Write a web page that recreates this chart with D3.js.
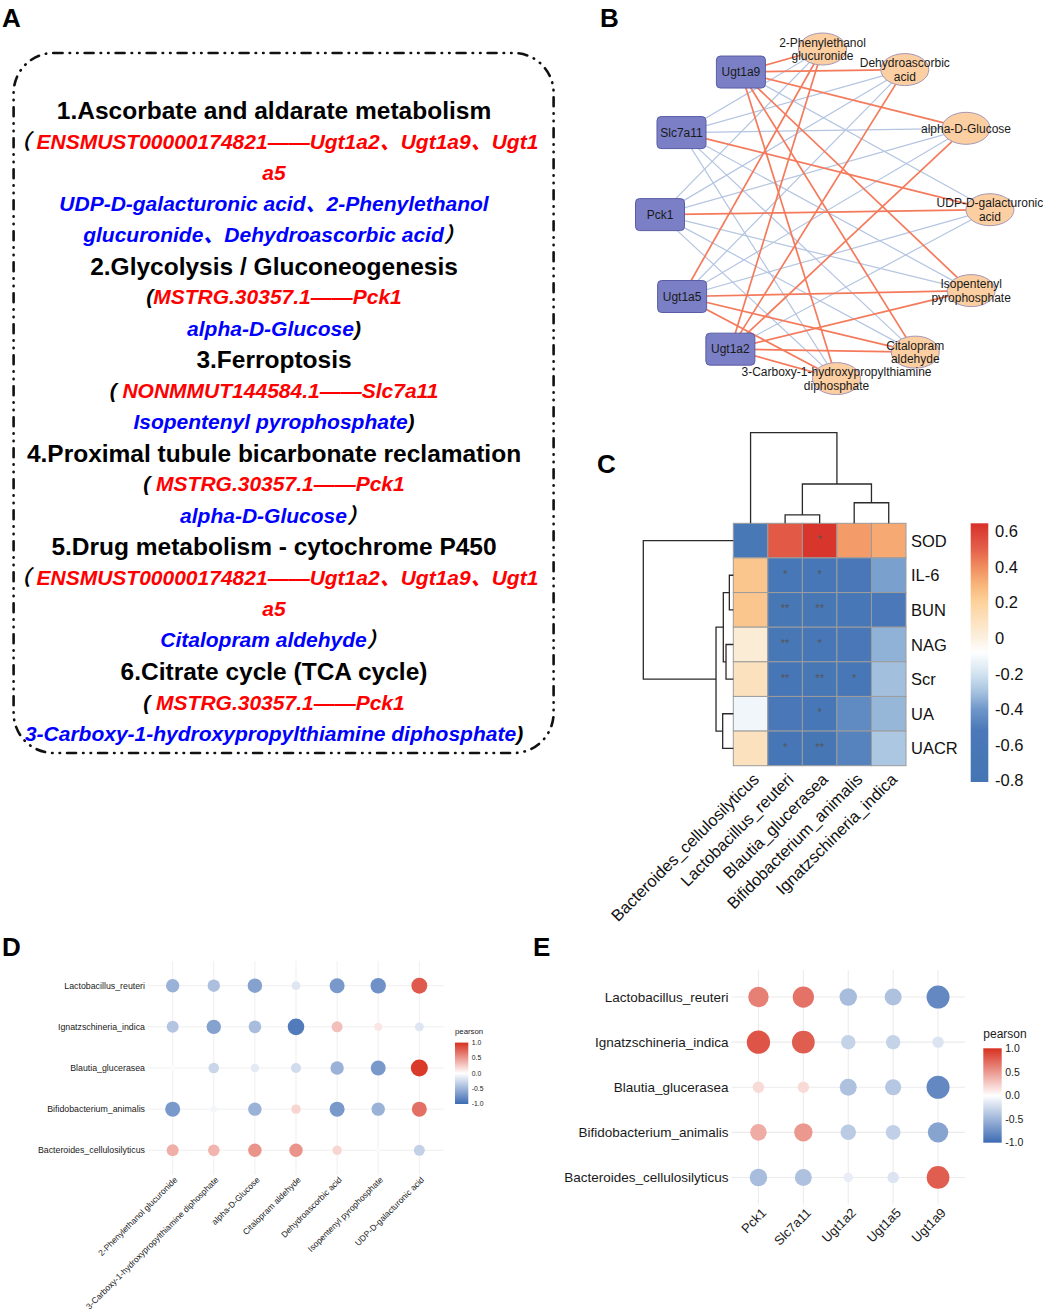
<!DOCTYPE html>
<html>
<head>
<meta charset="utf-8">
<script src="https://cdn.jsdelivr.net/npm/d3@7"></script>
<style>
  body { margin: 0; background: #fff; }
  svg { display: block; font-family: "Liberation Sans", Arial, sans-serif; }
</style>
</head>
<body>
<svg id="fig" width="1045" height="1316"></svg>
<script>
// ---------- data ----------

// panel A: pathway text, each line is a list of [text, style]
const pathwayLines = [
  [["1.Ascorbate and aldarate metabolism", "h"]],
  [["（ ", "k"], ["ENSMUST00000174821——Ugt1a2、Ugt1a9、Ugt1", "r"]],
  [["a5", "r"]],
  [["UDP-D-galacturonic acid、2-Phenylethanol", "b"]],
  [["glucuronide、Dehydroascorbic acid", "b"], ["）", "k"]],
  [["2.Glycolysis / Gluconeogenesis", "h"]],
  [["(", "k"], ["MSTRG.30357.1——Pck1", "r"]],
  [["alpha-D-Glucose", "b"], [")", "k"]],
  [["3.Ferroptosis", "h"]],
  [["( ", "k"], ["NONMMUT144584.1——Slc7a11", "r"]],
  [["Isopentenyl pyrophosphate", "b"], [")", "k"]],
  [["4.Proximal tubule bicarbonate reclamation", "h"]],
  [["( ", "k"], ["MSTRG.30357.1——Pck1", "r"]],
  [["alpha-D-Glucose", "b"], ["）", "k"]],
  [["5.Drug metabolism - cytochrome P450", "h"]],
  [["（ ", "k"], ["ENSMUST00000174821——Ugt1a2、Ugt1a9、Ugt1", "r"]],
  [["a5", "r"]],
  [["Citalopram aldehyde", "b"], ["）", "k"]],
  [["6.Citrate cycle (TCA cycle)", "h"]],
  [["( ", "k"], ["MSTRG.30357.1——Pck1", "r"]],
  [["3-Carboxy-1-hydroxypropylthiamine diphosphate", "b"], [")", "k"]]
];

// panel B: network
const genes = ["Ugt1a9", "Slc7a11", "Pck1", "Ugt1a5", "Ugt1a2"];
const metabolites = ["2-Phenylethanol glucuronide", "Dehydroascorbic acid", "alpha-D-Glucose",
  "UDP-D-galacturonic acid", "Isopentenyl pyrophosphate", "Citalopram aldehyde",
  "3-Carboxy-1-hydroxypropylthiamine diphosphate"];
const metaboliteLabels = [["2-Phenylethanol", "glucuronide"], ["Dehydroascorbic", "acid"], ["alpha-D-Glucose"],
  ["UDP-D-galacturonic", "acid"], ["Isopentenyl", "pyrophosphate"], ["Citalopram", "aldehyde"],
  ["3-Carboxy-1-hydroxypropylthiamine", "diphosphate"]];
// +1 positive (red), -1 negative (blue); rows = genes, cols = metabolites
const edgeSign = [
  [ 1,  1,  1, -1,  1,  1,  1],
  [-1, -1, -1,  1, -1, -1, -1],
  [-1, -1, -1,  1, -1, -1, -1],
  [ 1, -1, -1, -1,  1,  1,  1],
  [ 1,  1,  1, -1,  1,  1,  1]
];
// order of nodes around the circle, clockwise from the right
const circleOrder = ["UDP-D-galacturonic acid", "Isopentenyl pyrophosphate", "Citalopram aldehyde",
  "3-Carboxy-1-hydroxypropylthiamine diphosphate", "Ugt1a2", "Ugt1a5", "Pck1", "Slc7a11", "Ugt1a9",
  "2-Phenylethanol glucuronide", "Dehydroascorbic acid", "alpha-D-Glucose"];

// panel C: heatmap
const bacteriaC = ["Bacteroides_cellulosilyticus", "Lactobacillus_reuteri", "Blautia_glucerasea",
  "Bifidobacterium_animalis", "Ignatzschineria_indica"];
const clinical = ["SOD", "IL-6", "BUN", "NAG", "Scr", "UA", "UACR"];
const corrC = [
  [-0.56,  0.52,  0.63,  0.36,  0.33],
  [ 0.24, -0.62, -0.62, -0.60, -0.38],
  [ 0.24, -0.65, -0.65, -0.62, -0.53],
  [ 0.03, -0.66, -0.62, -0.60, -0.34],
  [ 0.10, -0.68, -0.66, -0.62, -0.31],
  [-0.12, -0.60, -0.62, -0.45, -0.33],
  [ 0.10, -0.68, -0.72, -0.48, -0.29]
];
const starsC = [
  ["", "",   "*",  "",  ""],
  ["", "*",  "*",  "",  ""],
  ["", "**", "**", "",  ""],
  ["", "**", "*",  "",  ""],
  ["", "**", "**", "*", ""],
  ["", "",   "*",  "",  ""],
  ["", "*",  "**", "",  ""]
];
// dendrograms: [left, right, height], leaves are names
const colTree = ["Bacteroides_cellulosilyticus",
  [["Lactobacillus_reuteri", "Blautia_glucerasea", 0.092],
   ["Bifidobacterium_animalis", "Ignatzschineria_indica", 0.227], 0.434], 1.0];
const rowTree = ["SOD",
  [[["IL-6", "BUN", 0.044], ["NAG", "Scr", 0.081], 0.111], ["UA", "UACR", 0.118], 0.192], 1.0];
const heatTicks = [0.6, 0.4, 0.2, 0, -0.2, -0.4, -0.6, -0.8];
const heatStops = [-0.81, -0.52, -0.4, -0.3, -0.2, -0.08, 0, 0.2, 0.3, 0.4, 0.5, 0.645];
const heatColors = ["#4575b4", "#4a78b8", "#6f97c9", "#a8c4e0", "#d3e4f0", "#ffffff",
  "#fbf0df", "#fdd29c", "#f8b57a", "#f08c5f", "#e4604a", "#d7302a"];

// panels D and E: bubble plots
const bacteriaDE = ["Lactobacillus_reuteri", "Ignatzschineria_indica", "Blautia_glucerasea",
  "Bifidobacterium_animalis", "Bacteroides_cellulosilyticus"];
const metabolitesD = ["2-Phenylethanol glucuronide", "3-Carboxy-1-hydroxypropylthiamine diphosphate",
  "alpha-D-Glucose", "Citalopram aldehyde", "Dehydroascorbic acid", "Isopentenyl pyrophosphate",
  "UDP-D-galacturonic acid"];
const corrD = [
  [-0.52, -0.43, -0.63, -0.17, -0.69, -0.74,  0.80],
  [-0.39, -0.63, -0.45, -0.89,  0.31,  0.12, -0.17],
  [-0.03, -0.28, -0.14, -0.24, -0.52, -0.69,  0.95],
  [-0.69, -0.06, -0.52,  0.20, -0.69, -0.52,  0.69],
  [ 0.39,  0.36,  0.52,  0.52,  0.20, -0.03, -0.31]
];
const genesE = ["Pck1", "Slc7a11", "Ugt1a2", "Ugt1a5", "Ugt1a9"];
const corrE = [
  [ 0.62,  0.68, -0.45, -0.42, -0.80],
  [ 0.82,  0.78, -0.30, -0.30, -0.18],
  [ 0.18,  0.18, -0.42, -0.38, -0.80],
  [ 0.40,  0.50, -0.35, -0.32, -0.62],
  [-0.45, -0.42, -0.12, -0.18,  0.78]
];
const pearsonTicks = [1, 0.5, 0, -0.5, -1];

// ---------- drawing ----------
const svg = d3.select("#fig");

// panel letters
[["A", 2, 27], ["B", 600, 27], ["C", 597, 473], ["D", 2, 956], ["E", 533, 956]].forEach(([t, x, y]) => {
  svg.append("text").attr("x", x).attr("y", y).text(t)
    .attr("font-size", 26).attr("font-weight", "bold").attr("fill", "#000");
});

// ---- A ----
const gA = svg.append("g").style("font-family", "'Liberation Sans', Arial, 'Noto Sans CJK SC', sans-serif");
gA.append("rect")
  .attr("x", 13.6).attr("y", 53).attr("width", 540).attr("height", 700).attr("rx", 40)
  .attr("fill", "none").attr("stroke", "#111").attr("stroke-width", 2.6)
  .attr("stroke-linecap", "round").attr("stroke-dasharray", "9 7 0.5 7 0.5 7");

const lineY = d3.scaleLinear().domain([0, pathwayLines.length - 1]).range([110, 733.3]);
const segStyle = {
  h: { size: 24.5, style: "normal", fill: "#000" },
  r: { size: 21, style: "italic", fill: "#ff0000" },
  b: { size: 21, style: "italic", fill: "#0000ff" },
  k: { size: 21, style: "italic", fill: "#000" }
};
pathwayLines.forEach((line, i) => {
  const head = line[0][1] === "h";
  const t = gA.append("text")
    .attr("x", 274).attr("y", lineY(i) + (head ? 8.8 : 7.5))
    .attr("text-anchor", "middle").attr("font-weight", "bold");
  line.forEach(([s, k]) => {
    const st = segStyle[k];
    t.append("tspan").text(s)
      .attr("font-size", st.size).attr("font-style", st.style).attr("fill", st.fill);
  });
});

// ---- B ----
const gB = svg.append("g");
const netCx = 825, netCy = 214, netR = 165;
// circular layout, slightly wider gap at the bottom like the original
const ang = d3.scaleLinear().domain([0, 3, 4, 5, 12]).range([-1.5, 86, 125, 150, 358.5]);
const pos = {};
circleOrder.forEach((n, i) => {
  const a = ang(i) * Math.PI / 180;
  pos[n] = [netCx + netR * Math.cos(a), netCy + netR * Math.sin(a)];
});

const edges = [];
genes.forEach((g, i) => metabolites.forEach((m, j) => edges.push({ g, m, s: edgeSign[i][j] })));
edges.sort((a, b) => a.s - b.s); // blue first, red on top
gB.selectAll("line.edge").data(edges).join("line")
  .attr("x1", d => pos[d.g][0]).attr("y1", d => pos[d.g][1])
  .attr("x2", d => pos[d.m][0]).attr("y2", d => pos[d.m][1])
  .attr("stroke", d => d.s > 0 ? "#f47a5b" : "#b4c5e1")
  .attr("stroke-width", d => d.s > 0 ? 1.7 : 1.2);

gB.selectAll("rect.gene").data(genes).join("rect")
  .attr("x", d => pos[d][0] - 24.5).attr("y", d => pos[d][1] - 16)
  .attr("width", 49).attr("height", 32).attr("rx", 4)
  .attr("fill", "#7b7fc5").attr("stroke", "#5a5da5").attr("stroke-width", 1);
gB.selectAll("text.gene").data(genes).join("text")
  .attr("x", d => pos[d][0]).attr("y", d => pos[d][1] + 4.3)
  .attr("text-anchor", "middle").attr("font-size", 12).attr("fill", "#1a1a1a")
  .text(d => d);

gB.selectAll("ellipse.met").data(metabolites).join("ellipse")
  .attr("cx", d => pos[d][0]).attr("cy", d => pos[d][1])
  .attr("rx", 24).attr("ry", 16)
  .attr("fill", "#fccfa2").attr("stroke", "#a597b8").attr("stroke-width", 1);
metabolites.forEach((m, j) => {
  const lab = metaboliteLabels[j];
  lab.forEach((s, k) => {
    gB.append("text")
      .attr("x", pos[m][0])
      .attr("y", pos[m][1] - (lab.length - 1) * 6.8 + k * 13.6 + 4.3)
      .attr("text-anchor", "middle").attr("font-size", 12).attr("fill", "#1a1a1a")
      .text(s);
  });
});

// ---- C ----
const gC = svg.append("g");
const hx = d3.scaleBand().domain(bacteriaC).range([733.3, 906]);
const hy = d3.scaleBand().domain(clinical).range([523.3, 765.7]);
const heatColor = d3.scaleLinear().domain(heatStops).range(heatColors).clamp(true);

clinical.forEach((r, i) => bacteriaC.forEach((b, j) => {
  gC.append("rect")
    .attr("x", hx(b)).attr("y", hy(r)).attr("width", hx.bandwidth()).attr("height", hy.bandwidth())
    .attr("fill", heatColor(corrC[i][j])).attr("stroke", "#9c9c9c").attr("stroke-width", 1);
  if (starsC[i][j]) {
    gC.append("text")
      .attr("x", hx(b) + hx.bandwidth() / 2).attr("y", hy(r) + hy.bandwidth() / 2 + 2.5)
      .attr("text-anchor", "middle").attr("font-size", 11).attr("fill", "#555")
      .text(starsC[i][j]);
  }
}));

clinical.forEach(r => {
  gC.append("text").attr("x", 911).attr("y", hy(r) + hy.bandwidth() / 2 + 6)
    .attr("font-size", 16.5).attr("fill", "#111").text(r);
});
bacteriaC.forEach(b => {
  gC.append("text")
    .attr("transform", `translate(${hx(b) + hx.bandwidth() / 2 + 1},772) rotate(-45)`)
    .attr("text-anchor", "end").attr("dy", "0.72em")
    .attr("font-size", 16.5).attr("fill", "#111").text(b);
});

// dendrograms
const colH = d3.scaleLinear().domain([0, 1]).range([523.3, 432.7]);
const rowH = d3.scaleLinear().domain([0, 1]).range([733.3, 643.3]);
function drawTree(node, leafPos, hPos, vertical) {
  if (typeof node === "string") return { p: leafPos(node), h: 0 };
  const a = drawTree(node[0], leafPos, hPos, vertical);
  const b = drawTree(node[1], leafPos, hPos, vertical);
  const h = node[2];
  const d = vertical
    ? `M${a.p},${hPos(a.h)}V${hPos(h)}H${b.p}V${hPos(b.h)}`
    : `M${hPos(a.h)},${a.p}H${hPos(h)}V${b.p}H${hPos(b.h)}`;
  gC.append("path").attr("d", d).attr("fill", "none").attr("stroke", "#2a2a2a").attr("stroke-width", 1.3);
  return { p: (a.p + b.p) / 2, h };
}
drawTree(colTree, n => hx(n) + hx.bandwidth() / 2, colH, true);
drawTree(rowTree, n => hy(n) + hy.bandwidth() / 2, rowH, false);

// colorbar
const cbY = d3.scaleLinear().domain([-0.81, 0.645]).range([782, 523.3]);
const defs = svg.append("defs");
const gradC = defs.append("linearGradient").attr("id", "gradC")
  .attr("x1", 0).attr("y1", 1).attr("x2", 0).attr("y2", 0);
d3.range(0, 1.0001, 0.02).forEach(t => {
  gradC.append("stop").attr("offset", t).attr("stop-color", heatColor(-0.81 + t * (0.645 + 0.81)));
});
gC.append("rect").attr("x", 970.7).attr("y", 523.3).attr("width", 17.6).attr("height", 782 - 523.3)
  .attr("fill", "url(#gradC)");
heatTicks.forEach(v => {
  gC.append("text").attr("x", 995).attr("y", cbY(v) + 6)
    .attr("font-size", 16.5).attr("fill", "#111").text(v === 0 ? "0" : v.toFixed(1));
});

// ---- D / E ----
const lowBlue = "#3d6bb3", highRed = "#d7301f";
const pearsonColor = d3.scaleLinear().domain([-1, 0, 1]).range([lowBlue, "#ffffff", highRed]);

function bubblePanel(o) {
  const g = svg.append("g");
  const x = d3.scalePoint().domain(o.cols).range(o.xr).padding(0.6);
  const y = d3.scalePoint().domain(o.rows).range(o.yr).padding(0.6);
  const r = d3.scaleSqrt().domain([0, 1]).range(o.rr);

  g.selectAll("line.h").data(o.rows).join("line")
    .attr("x1", o.xr[0]).attr("x2", o.xr[1]).attr("y1", d => y(d)).attr("y2", d => y(d))
    .attr("stroke", "#ebebeb").attr("stroke-width", o.gw);
  g.selectAll("line.v").data(o.cols).join("line")
    .attr("y1", o.yr[0]).attr("y2", o.yr[1]).attr("x1", d => x(d)).attr("x2", d => x(d))
    .attr("stroke", "#ebebeb").attr("stroke-width", o.gw);

  o.rows.forEach((rw, i) => o.cols.forEach((c, j) => {
    const v = o.values[i][j];
    g.append("circle").attr("cx", x(c)).attr("cy", y(rw)).attr("r", r(Math.abs(v)))
      .attr("fill", pearsonColor(v));
  }));

  o.rows.forEach(rw => {
    g.append("text").attr("x", o.xr[0] - 3).attr("y", y(rw) + o.rowFont * 0.35)
      .attr("text-anchor", "end").attr("font-size", o.rowFont).attr("fill", "#1a1a1a").text(rw);
  });
  o.cols.forEach(c => {
    g.append("text")
      .attr("transform", `translate(${x(c) + o.xlabDx},${o.xlabY}) rotate(-45)`)
      .attr("text-anchor", "end").attr("dy", "0.72em")
      .attr("font-size", o.colFont).attr("fill", "#1a1a1a").text(c);
  });

  // legend
  const L = o.legend;
  g.append("text").attr("x", L.x).attr("y", L.titleY).attr("font-size", L.titleFont)
    .attr("fill", "#1a1a1a").text("pearson");
  const id = "grad" + o.id;
  const gr = defs.append("linearGradient").attr("id", id)
    .attr("x1", 0).attr("y1", 1).attr("x2", 0).attr("y2", 0);
  d3.range(0, 1.0001, 0.05).forEach(t => {
    gr.append("stop").attr("offset", t).attr("stop-color", pearsonColor(-1 + 2 * t));
  });
  g.append("rect").attr("x", L.x).attr("y", L.y0).attr("width", L.w).attr("height", L.y1 - L.y0)
    .attr("fill", `url(#${id})`);
  const ly = d3.scaleLinear().domain([-1, 1]).range([L.y1, L.y0]);
  pearsonTicks.forEach(v => {
    g.append("text").attr("x", L.x + L.w + 3.5).attr("y", ly(v) + L.font * 0.35)
      .attr("font-size", L.font).attr("fill", "#1a1a1a").text(v.toFixed(1));
  });
}

bubblePanel({
  id: "D", rows: bacteriaDE, cols: metabolitesD, values: corrD,
  xr: [148, 444], yr: [961, 1175], rr: [1.5, 8.7], gw: 0.8,
  rowFont: 8.8, colFont: 8.5, xlabDx: 1, xlabY: 1176,
  legend: { x: 455, titleY: 1033.5, titleFont: 7.8, y0: 1042.6, y1: 1104, w: 13.3, font: 6.8 }
});
bubblePanel({
  id: "E", rows: bacteriaDE, cols: genesE, values: corrE,
  xr: [731.5, 965], yr: [970, 1204.5], rr: [0.5, 12.8], gw: 1.1,
  rowFont: 13.5, colFont: 13, xlabDx: 2, xlabY: 1207,
  legend: { x: 983.3, titleY: 1038, titleFont: 12, y0: 1048.3, y1: 1142.7, w: 18.4, font: 10.5 }
});
</script>
</body>
</html>
